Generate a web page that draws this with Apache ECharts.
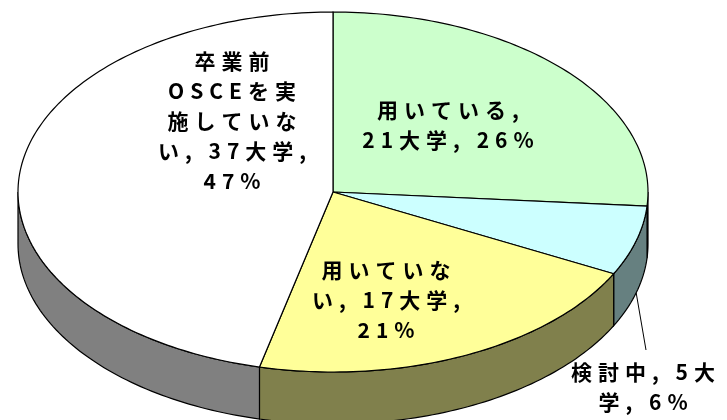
<!DOCTYPE html>
<html>
<head>
<meta charset="utf-8">
<script src="https://cdn.jsdelivr.net/npm/echarts@6/dist/echarts.min.js"></script>
<style>
  html, body { margin: 0; padding: 0; background: #fff; }
  #chart { width: 727px; height: 420px; }
</style>
</head>
<body>
<div id="chart"></div>
<script>
// 卒業前OSCEの実施状況（大学数）
const names = ['用いている', '検討中', '用いていない', '卒業前OSCEを実施していない'];
const counts = [21, 5, 17, 37];
const percents = [26, 6, 21, 47];
const topColors = ['#CCFFCC', '#CCFFFF', '#FFFF99', '#FFFFFF'];
const sideColors = ['#668066', '#668080', '#80804C', '#808080'];
// ラベルの改行位置（文字数）
const breaks = [[6], [7], [5, 13], [3, 9, 14, 22]];
// ラベル中心 [x, y]
const labelPos = [[448, 125], [643, 387], [386, 300], [232, 121]];

// 文字間を少し空ける（Excel風）
const _fillText = CanvasRenderingContext2D.prototype.fillText;
CanvasRenderingContext2D.prototype.fillText = function (t, x, y, w) {
  this.letterSpacing = '6px';
  return _fillText.call(this, t, x + 3, y, w);
};

const cx = 333, cy = 192, rx = 315, ry = 180, depth = 52;
const total = counts.reduce((a, b) => a + b, 0);
const starts = [];
counts.reduce((acc, v, i) => { starts[i] = acc; return acc + v; }, 0);

function pt(ang, dy) {
  // ang: 12時方向から時計回り
  return [cx + rx * Math.sin(ang), cy - ry * Math.cos(ang) + (dy || 0)];
}
function arc(a0, a1, dy) {
  const n = Math.max(2, Math.ceil((a1 - a0) / 0.02));
  const pts = [];
  for (let k = 0; k <= n; k++) pts.push(pt(a0 + (a1 - a0) * k / n, dy));
  return pts;
}
function labelText(i) {
  const s = names[i] + ', ' + counts[i] + '大学, ' + percents[i] + '%';
  let out = '', last = 0;
  breaks[i].forEach(b => { out += s.slice(last, b).trim() + '\n'; last = b; });
  return out + s.slice(last).trim();
}

const font = { fontSize: 21, fontWeight: 'bold', fontFamily: "'Noto Sans CJK JP', sans-serif", fill: '#000', lineHeight: 30 };

var myChart = echarts.init(document.getElementById('chart'));
myChart.setOption({
  animation: false,
  series: [{
    type: 'custom',
    coordinateSystem: 'none',
    data: counts,
    renderItem: function (params, api) {
      const i = params.dataIndex;
      const a0 = starts[i] / total * Math.PI * 2;
      const a1 = (starts[i] + api.value(0)) / total * Math.PI * 2;
      const children = [];
      // 側面（手前側だけ）
      const s0 = Math.max(a0, Math.PI / 2), s1 = Math.min(a1, Math.PI * 1.5);
      if (s1 > s0) {
        const pts = arc(s0, s1, 0).concat(arc(s0, s1, depth).reverse());
        children.push({ type: 'polygon', shape: { points: pts },
          style: { fill: sideColors[i], stroke: '#000', lineWidth: 1.2 } });
      }
      // 上面
      children.push({ type: 'polygon', shape: { points: [[cx, cy]].concat(arc(a0, a1, 0)) },
        style: { fill: topColors[i], stroke: '#000', lineWidth: 1.2 } });
      // ラベル
      const lp = labelPos[i];
      if (lp[1] > cy + ry) {
        const mid = (a0 + a1) / 2;
        const p = pt(mid, depth);
        children.push({ type: 'line', shape: { x1: p[0], y1: p[1], x2: lp[0] + 3, y2: lp[1] - 37 },
          style: { stroke: '#000', lineWidth: 1 } });
      }
      children.push({ type: 'text', x: lp[0], y: lp[1],
        style: Object.assign({ text: labelText(i), align: 'center', verticalAlign: 'middle' }, font) });
      return { type: 'group', children: children };
    }
  }]
});
</script>
</body>
</html>
